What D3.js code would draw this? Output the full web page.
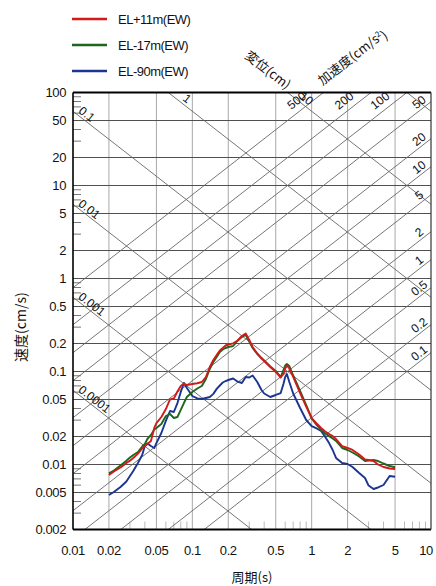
<!DOCTYPE html>
<html><head><meta charset="utf-8">
<script src="https://cdn.jsdelivr.net/npm/d3@7"></script>
<style>body{margin:0;background:#fff}</style>
</head><body><svg id="c" width="436" height="586"></svg>
<script>
const periods = [0.02,0.022,0.025,0.028,0.03,0.032,0.035,0.038,0.04,0.042,
 0.045,0.048,0.05,0.055,0.06,0.065,0.07,0.075,0.08,0.085,
 0.09,0.1,0.11,0.12,0.13,0.14,0.15,0.16,0.17,0.18,
 0.19,0.2,0.22,0.24,0.26,0.28,0.3,0.32,0.35,0.38,
 0.4,0.45,0.5,0.55,0.58,0.6,0.62,0.65,0.7,0.8,
 0.9,1.0,1.1,1.2,1.3,1.4,1.5,1.6,1.8,2.0,
 2.2,2.5,2.8,3.0,3.3,3.6,4.0,4.5,5.0];
const velRed = [0.00771,0.00841,0.00928,0.01038,0.0110,0.01175,0.0131,0.0149,0.0158,0.0166,
 0.0179,0.0247,0.0279,0.0324,0.0395,0.0500,0.0513,0.0610,0.0699,0.0743,
 0.0716,0.0734,0.0747,0.0771,0.0873,0.1118,0.1329,0.1504,0.1681,0.1789,
 0.1904,0.1951,0.2010,0.2154,0.2408,0.2562,0.2182,0.1834,0.1562,0.1379,
 0.1297,0.1118,0.0988,0.0862,0.0940,0.1077,0.1160,0.1077,0.0873,0.0587,
 0.0420,0.0316,0.0276,0.0247,0.0226,0.0213,0.0202,0.0188,0.0158,0.01505,
 0.01432,0.0128,0.01132,0.01118,0.01090,0.0100,0.0094,0.00906,0.00895];
const velGreen = [0.00804,0.00862,0.00975,0.0110,0.0119,0.01265,0.01363,0.0156,0.0166,0.0188,
 0.0208,0.0238,0.0247,0.0273,0.0332,0.0349,0.0316,0.0324,0.0386,0.0458,
 0.0532,0.0602,0.0657,0.0699,0.0831,0.1064,0.1265,0.1432,0.1621,0.1724,
 0.1789,0.1834,0.1880,0.2154,0.2350,0.2469,0.2102,0.1789,0.1543,0.1397,
 0.1313,0.1132,0.1013,0.0873,0.1038,0.1160,0.1204,0.1146,0.0906,0.0617,
 0.0436,0.0313,0.0266,0.0235,0.0215,0.0202,0.0190,0.0179,0.01505,0.01432,
 0.01346,0.01219,0.01090,0.0110,0.01118,0.01090,0.01025,0.00963,0.00933];
const velBlue = [0.0047,0.00506,0.00573,0.00657,0.00752,0.00851,0.01038,0.01265,0.0158,0.0168,
 0.0158,0.01505,0.0170,0.0218,0.0294,0.0376,0.0367,0.0458,0.0602,0.0752,
 0.0665,0.0545,0.0513,0.0506,0.0519,0.0532,0.0575,0.0650,0.0707,0.0762,
 0.0790,0.0810,0.0841,0.0777,0.0752,0.0873,0.0862,0.0906,0.0771,0.0632,
 0.0580,0.0532,0.0559,0.0587,0.0734,0.0873,0.0940,0.0771,0.0580,0.0405,
 0.0301,0.0259,0.0244,0.0229,0.0198,0.0170,0.01432,0.01175,0.01038,0.01012,
 0.0094,0.0081,0.00716,0.00594,0.00545,0.00566,0.00602,0.00752,0.00739];
const seriesNames = ["EL+11m(EW)","EL-17m(EW)","EL-90m(EW)"];
const seriesColors = ["#d11a1a","#1e661e","#1b3590"];
const xTicks = [0.01,0.02,0.05,0.1,0.2,0.5,1,2,5,10];
const xTickLabels = ["0.01","0.02","0.05","0.1","0.2","0.5","1","2","5","10"];
const yTicks = [100,50,20,10,5,2,1,0.5,0.2,0.1,0.05,0.02,0.01,0.005,0.002];
const yTickLabels = ["100","50","20","10","5","2","1","0.5","0.2","0.1","0.05","0.02","0.01","0.005","0.002"];
const dispLines = [0.0001,0.001,0.01,0.1,1,10,100];
const dispLeftLabels = ["0.0001","0.001","0.01","0.1"];
const dispTopLabels = ["1","10"];
const accLines = [0.1,0.2,0.5,1,2,5,10,20,50,100,200,500];
const accTopLabels = ["500","200","100"];
const accRightLabels = ["50","20","10","5","2","1","0.5","0.2","0.1"];
const xTitle = "周期(s)", yTitle = "速度(cm/s)", dispTitle = "変位(cm)", accTitle = "加速度(cm/s";

const svg = d3.select("#c");
const L=73, R=431, T=92.5, B=529.5;
const x = d3.scaleLog().domain([0.01,10]).range([L,R]);
const y = d3.scaleLog().domain([0.002,100]).range([B,T]);
const TP = 2*Math.PI;
const font = "'Liberation Sans',Arial,sans-serif";
const cjk = "'Noto Sans CJK JP','Noto Sans CJK SC',sans-serif";
const ang = Math.atan((y(1)-y(10))/(x(10)-x(1)))*180/Math.PI;

svg.append("defs").append("clipPath").attr("id","clip")
  .append("rect").attr("x",L).attr("y",T).attr("width",R-L).attr("height",B-T);
const g = svg.append("g");

// vertical grid
const vgrid = [];
[0.01,0.1,1].forEach(d=>[2,5,10].forEach(m=>{ if(d*m<10) vgrid.push(d*m); }));
g.selectAll(".vg").data(vgrid).enter().append("line")
 .attr("x1",d=>x(d)).attr("x2",d=>x(d)).attr("y1",T).attr("y2",B)
 .attr("stroke","#a8a8a8").attr("stroke-width",1);
// horizontal grid
g.selectAll(".hg").data(yTicks.slice(1)).enter().append("line")
 .attr("x1",L).attr("x2",R).attr("y1",d=>y(d)).attr("y2",d=>y(d))
 .attr("stroke","#505050").attr("stroke-width",1.2);

// minor ticks
const minorX=[], minorY=[];
[0.01,0.1,1].forEach(d=>[3,4,6,7,8,9].forEach(m=>minorX.push(d*m)));
[0.001,0.01,0.1,1,10].forEach(d=>[3,4,6,7,8,9].forEach(m=>{const v=d*m; if(v>0.002&&v<100) minorY.push(v);}));
g.selectAll(".mx").data(minorX).enter().append("line")
 .attr("x1",d=>x(d)).attr("x2",d=>x(d)).attr("y1",B).attr("y2",B-8)
 .attr("stroke","#bbb").attr("stroke-width",1);
g.selectAll(".my").data(minorY).enter().append("line")
 .attr("x1",L).attr("x2",L+8).attr("y1",d=>y(d)).attr("y2",d=>y(d))
 .attr("stroke","#777").attr("stroke-width",1);

// diagonal lines
const dg = g.append("g").attr("clip-path","url(#clip)");
dg.selectAll(".dl").data(dispLines).enter().append("line")
 .attr("x1",x(0.01)).attr("y1",d=>y(TP*d/0.01)).attr("x2",x(10)).attr("y2",d=>y(TP*d/10))
 .attr("stroke","#666").attr("stroke-width",0.9);
dg.selectAll(".al").data(accLines).enter().append("line")
 .attr("x1",x(0.01)).attr("y1",d=>y(d*0.01/TP)).attr("x2",x(10)).attr("y2",d=>y(d*10/TP))
 .attr("stroke","#666").attr("stroke-width",0.9);

// data curves
const line = d3.line().x((d,i)=>x(periods[i])).y(d=>y(d));
[[velBlue,2],[velGreen,1],[velRed,0]].forEach(([s,ci])=>{
  g.append("path").datum(s).attr("d",line).attr("fill","none")
   .attr("stroke",seriesColors[ci]).attr("stroke-width",1.9).attr("stroke-linejoin","round");
});

// frame
g.append("line").attr("x1",L).attr("x2",R).attr("y1",T).attr("y2",T).attr("stroke","#000").attr("stroke-width",2);
g.append("line").attr("x1",L).attr("x2",R).attr("y1",B).attr("y2",B).attr("stroke","#000").attr("stroke-width",2);
g.append("line").attr("x1",L).attr("x2",L).attr("y1",T).attr("y2",B).attr("stroke","#000").attr("stroke-width",1.6);
g.append("line").attr("x1",R).attr("x2",R).attr("y1",T).attr("y2",B).attr("stroke","#333").attr("stroke-width",1.2);

// axis labels
svg.selectAll(".yl").data(yTicks).enter().append("text")
 .attr("x",L-7).attr("y",d=>y(d)).attr("dy","0.35em").attr("text-anchor","end")
 .attr("font-family",font).attr("font-size",13).attr("letter-spacing",-0.4).attr("fill","#111").text((d,i)=>yTickLabels[i]);
svg.selectAll(".xl").data(xTicks).enter().append("text")
 .attr("x",d=>Math.min(x(d),R-5)).attr("y",B+25).attr("text-anchor","middle")
 .attr("font-family",font).attr("font-size",13).attr("letter-spacing",-0.4).attr("fill","#111").text((d,i)=>xTickLabels[i]);

svg.append("text").attr("x",(x(0.2)+x(0.5))/2).attr("y",B+52).attr("text-anchor","middle")
 .attr("font-family",cjk).attr("font-size",13).attr("fill","#111").text(xTitle);
svg.append("text").attr("transform",`translate(26,${y(0.3)}) rotate(-90)`).attr("text-anchor","middle")
 .attr("font-family",cjk).attr("font-size",14).attr("fill","#111").text(yTitle);

// diagonal labels
const lab = (sel, tx, ty, a, txt, size)=> sel.append("text")
 .attr("transform",`translate(${tx},${ty}) rotate(${a})`).attr("text-anchor","middle").attr("dy","0.35em")
 .attr("font-family",font).attr("font-size",size||12).attr("fill","#111").text(txt);
dispLeftLabels.forEach(t=>{
  const D=+t; const cx = L+ 6 + t.length*2.6;
  const Tc = x.invert(cx);
  lab(svg, cx, y(TP*D/Tc)-8, ang, t);
});
dispTopLabels.forEach(t=>{
  const D=+t; const cx = x(TP*D/100)+19;
  lab(svg, cx, T+6, ang, t);
});
accTopLabels.forEach(t=>{
  const A=+t; const cx = x(TP*100/A)-27;
  lab(svg, cx, T+8, -ang, t);
});
accRightLabels.forEach(t=>{
  const A=+t; const cx = R-12;
  lab(svg, cx, y(A*x.invert(cx)/TP)-9, -ang, t);
});
// diagonal titles
svg.append("text").attr("transform",`translate(268,70) rotate(${ang})`).attr("text-anchor","middle").attr("dy","0.35em")
 .attr("font-family",cjk).attr("font-size",13).attr("fill","#111").text(dispTitle);
const at = svg.append("text").attr("transform",`translate(352,57) rotate(${-ang})`).attr("text-anchor","middle").attr("dy","0.35em")
 .attr("font-family",cjk).attr("font-size",13).attr("fill","#111");
at.append("tspan").text(accTitle);
at.append("tspan").attr("dy","-0.5em").attr("font-size",8).text("2");
at.append("tspan").attr("dy","0.5em").text(")");

// legend
seriesNames.forEach((n,i)=>{
  const ly = 19 + i*26;
  svg.append("line").attr("x1",72).attr("x2",107).attr("y1",ly).attr("y2",ly)
   .attr("stroke",seriesColors[i]).attr("stroke-width",2.5);
  svg.append("text").attr("x",118).attr("y",ly).attr("dy","0.35em")
   .attr("font-family",font).attr("font-size",13).attr("letter-spacing",-0.5).attr("fill","#111").text(n);
});
</script></body></html>
